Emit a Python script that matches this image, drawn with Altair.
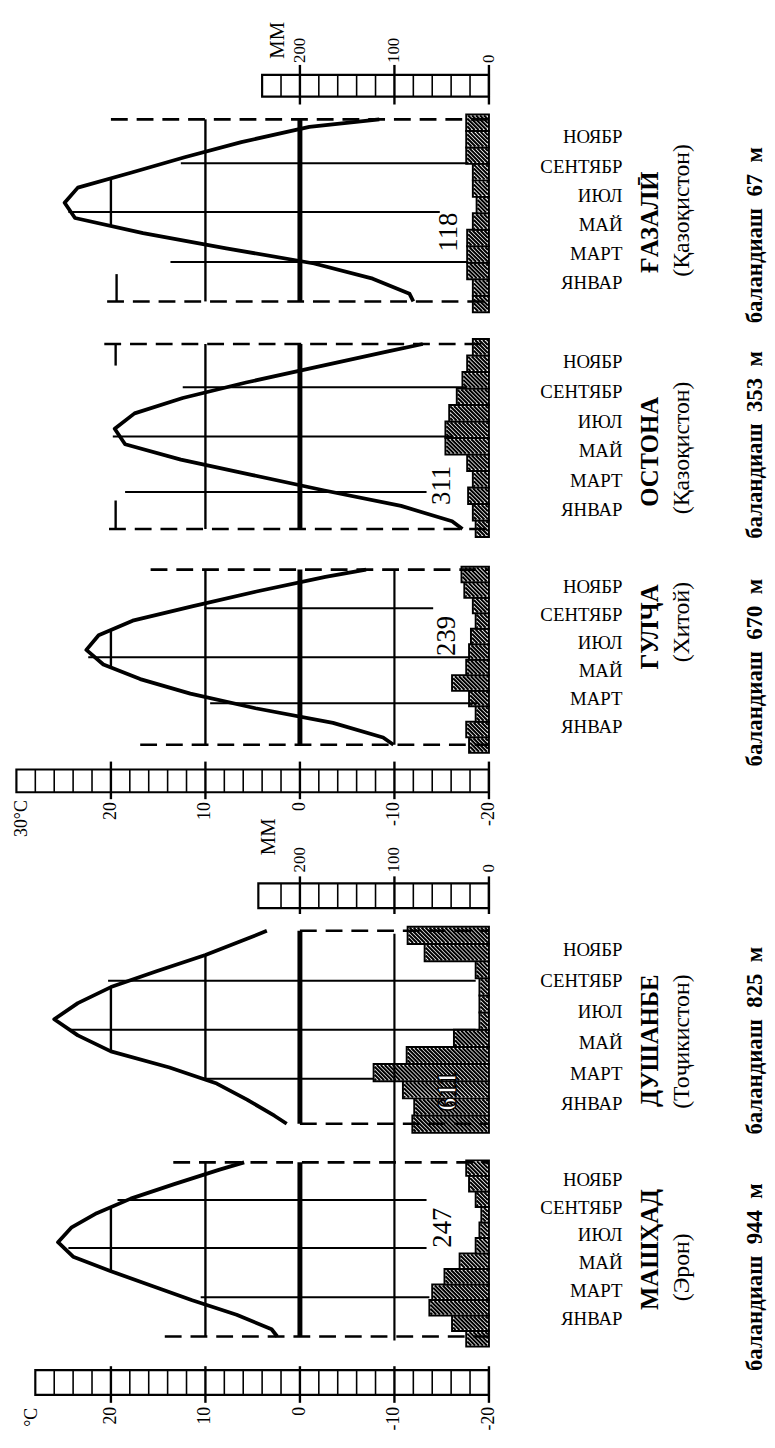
import altair as alt
import pandas as pd

# ---------------- values ----------------
station_names = ["ҒАЗАЛӢ", "ОСТОНА", "ГУЛҶА", "ДУШАНБЕ", "МАШҲАД"]
country_names = ["(Қазоқистон)", "(Қазоқистон)", "(Хитой)", "(Тоҷикистон)", "(Эрон)"]
NB = "\u00a0"
altitude_values = ["67", "353", "670", "825", "944"]
altitude_labels = ["баландиаш" + NB * 2 + v + NB * 2 + "м" for v in altitude_values]
annual_totals = ["118", "311", "239", "611", "247"]
month_labels = ["ЯНВАР", "МАРТ", "МАЙ", "ИЮЛ", "СЕНТЯБР", "НОЯБР"]

# mean monthly temperature, °C (January ... December)
temp_gazali   = [-11.6, -7.7, -1.5, 7.8, 16.6, 23.8, 24.9, 23.5, 17.8, 12.2, 6.2, -1.0]
temp_ostona   = [-16.1, -10.7, -2.6, 5.0, 12.6, 18.5, 19.6, 17.5, 12.4, 5.7, -1.7, -9.2]
temp_gulja    = [-8.8, -3.5, 4.7, 11.6, 16.9, 20.8, 22.6, 21.3, 17.7, 11.3, 4.6, -2.7]
temp_dushanbe = [2.7, 5.6, 8.8, 13.8, 20.0, 23.5, 26.0, 23.5, 20.0, 15.1, 10.0, 5.6]
temp_mashhad  = [3.0, 6.7, 11.4, 15.7, 20.0, 24.0, 25.6, 24.2, 21.5, 17.9, 13.3, 8.5]
# curve value where it meets the start / the end of the year
temp_year_start = [-12.0, -17.2, -9.9, 1.4, 2.4]
temp_year_end   = [-8.4, -13.0, -7.0, 3.5, 5.9]

# monthly precipitation, mm (January ... December)
prec_gazali   = [17, 17, 23, 23, 23, 17, 13, 17, 17, 24, 24, 24]
prec_ostona   = [14, 17, 22, 17, 23, 46, 46, 42, 34, 28, 23, 17]
prec_gulja    = [21, 24, 14, 21, 39, 24, 21, 19, 14, 17, 26, 29]
prec_dushanbe = [81, 79, 91, 122, 87, 37, 10, 10, 10, 14, 68, 86]
prec_mashhad  = [24, 39, 63, 60, 47, 31, 14, 10, 8, 14, 21, 24]

temp_tick_values = [20, 10, 0, -10, -20]
prec_tick_values = [200, 100, 0]

temps = [temp_gazali, temp_ostona, temp_gulja, temp_dushanbe, temp_mashhad]
precs = [prec_gazali, prec_ostona, prec_gulja, prec_dushanbe, prec_mashhad]

# ---------------- layout ----------------
W, H = 767, 1428
PAGE = 8
X_ZERO, X_PER_DEG = 303.0, 9.55


def x_to_t(xpage):
    return (X_ZERO - xpage) / X_PER_DEG


def t_to_xc(t):          # chart-pixel x of a °C value
    return X_ZERO - PAGE - X_PER_DEG * t


def xc_to_t(xc):
    return (X_ZERO - PAGE - xc) / X_PER_DEG


T_MAX = x_to_t(PAGE)
T_MIN = x_to_t(PAGE + W)


def mm_to_t(mm):
    return mm / 10.0 - 20.0


# curve frame (top, bottom) and bar frame (top, bottom), page pixels
panels = [
    dict(ct=113, cb=297, bt=108, bb=308),
    dict(ct=340, cb=527, bt=335, bb=535),
    dict(ct=568, cb=745, bt=565, bb=753),
    dict(ct=933, cb=1128, bt=929, bb=1137),
    dict(ct=1167, cb=1343, bt=1165, bb=1353),
]


def y_of(i, p, bars=False):
    f = panels[i]
    top, bot = (f["bt"], f["bb"]) if bars else (f["ct"], f["cb"])
    return bot - p * (bot - top) / 12.0 - PAGE


def ypg(page_y):
    return page_y - PAGE


def curve_points(i):
    return ([(0.0, temp_year_start[i])] + [(m + 0.5, v) for m, v in enumerate(temps[i])]
            + [(12.0, temp_year_end[i])])


def crossings(i, level):
    pts = curve_points(i)
    out = []
    for (p1, t1), (p2, t2) in zip(pts, pts[1:]):
        if (t1 < level <= t2) or (t2 < level <= t1):
            out.append(p1 + (level - t1) / (t2 - t1) * (p2 - p1))
    return out


xs = alt.Scale(domain=[T_MIN, T_MAX], reverse=True, nice=False, zero=False)
ys = alt.Scale(domain=[0, H], reverse=True, nice=False, zero=False)


def X(f="t"):
    return alt.X(f + ":Q", scale=xs, axis=None)


def Y(f="y"):
    return alt.Y(f + ":Q", scale=ys, axis=None)


# ---------------- curves ----------------
curve_rows = []
for i in range(5):
    for k, (p, t) in enumerate(curve_points(i)):
        curve_rows.append(dict(st=station_names[i], k=k, t=t, y=y_of(i, p)))
curve_df = pd.DataFrame(curve_rows)

# ---------------- precipitation bars (+ hatching derived from each bar) ----------------
bar_rows, hatch_rows = [], []
STEP = 4.0
for i in range(5):
    for m, v in enumerate(precs[i]):
        yb, yt = y_of(i, m, True), y_of(i, m + 1, True)
        bar_rows.append(dict(t=mm_to_t(v), t2=-20.0, y=yb, y2=yt))
        x0, x1 = t_to_xc(mm_to_t(v)) + 1, t_to_xc(-20.0) - 1
        y0, y1 = yt + 1, yb - 1
        c = (int((x0 - y1) // STEP) + 1) * STEP
        while c < x1 - y0:
            ya = max(y0, x0 - c)
            yz = min(y1, x1 - c)
            if yz - ya > 0.3:
                hatch_rows.append(dict(t=xc_to_t(ya + c), t2=xc_to_t(yz + c), y=ya, y2=yz))
            c += STEP
bar_df = pd.DataFrame(bar_rows)
hatch_df = pd.DataFrame(hatch_rows)

# ---------------- solid segments ----------------
seg = []


def add(t, t2, y, y2, w):
    seg.append(dict(t=t, t2=t2, y=y, y2=y2, w=w))


for i in range(5):
    add(0, 0, y_of(i, 0), y_of(i, 12), 5.0)          # 0 °C
    if i == 3:
        c = crossings(i, 10)
        if c:
            add(10, 10, y_of(i, c[0]), y_of(i, c[-1]), 2.4)
    else:
        add(10, 10, y_of(i, 0), y_of(i, 12), 2.4)
    if i != 1:
        c = crossings(i, 20)
        if c:
            add(20, 20, y_of(i, c[0]), y_of(i, c[-1]), 2.4)
# -10 °C lines
add(-10, -10, y_of(2, 0), y_of(2, 12), 2.2)
add(-10, -10, y_of(3, 12) + 3, y_of(4, 0) + 4, 2.2)

# month guide lines: (position in months from Jan start, from °C, to °C)
guides = [
    [(9.1, 12.6, -17.8), (5.9, 24.5, -14.8), (2.6, 13.7, -17.8)],
    [(9.2, 12.4, -17.6), (6.0, 19.8, -16.2), (2.4, 18.5, -13.4)],
    [(9.35, 10.1, -14.1), (6.0, 22.4, -17.9), (2.85, 9.5, -18.8)],
    [(8.9, 20.3, -18.6), (5.85, 24.3, -18.6), (2.8, 10.5, -7.8)],
    [(9.4, 19.3, -13.4), (6.1, 24.5, -13.4), (2.7, 10.5, -13.7)],
]
for i, gl in enumerate(guides):
    for p, a, b in gl:
        add(a, b, y_of(i, p), y_of(i, p), 2.0)

# short marks at the panel edges
add(19.4, 19.4, y_of(0, 0), y_of(0, 1.8), 2.4)
add(19.5, 19.5, y_of(1, 12), y_of(1, 10.6), 2.4)
add(19.5, 19.5, y_of(1, 0), y_of(1, 1.85), 2.4)

# ---------------- dashed year limits ----------------
dash_start = [(20.0, 20.4), (20.7, 20.2), (15.8, 16.9), (0.0, 0.0), (13.4, 14.3)]
dash_rows = []
for i, (a_top, a_bot) in enumerate(dash_start):
    dash_rows.append(dict(t=a_top, t2=-20.0, y=y_of(i, 12), y2=y_of(i, 12)))
    dash_rows.append(dict(t=a_bot, t2=-20.0, y=y_of(i, 0), y2=y_of(i, 0)))
dash_df = pd.DataFrame(dash_rows)

# ---------------- scale bars ----------------
scale_bars = [
    dict(a=mm_to_t(240), b=-20, top=68, bot=90, tt=58, tb=98, major=[mm_to_t(v) for v in prec_tick_values]),
    dict(a=30, b=-20, top=770, bot=793, tt=762, tb=800, major=temp_tick_values),
    dict(a=mm_to_t(244), b=-20, top=885, bot=910, tt=878, tb=916, major=[mm_to_t(v) for v in prec_tick_values]),
    dict(a=28, b=-20, top=1377, bot=1402, tt=1373, tb=1410, major=temp_tick_values),
]
box_rows, cell_rows = [], []
for sb in scale_bars:
    box_rows.append(dict(t=sb["a"], t2=sb["b"], y=ypg(sb["top"]), y2=ypg(sb["bot"])))
    v = -18.0
    while v < sb["a"] - 0.5:
        if v not in sb["major"]:
            cell_rows.append(dict(t=v, t2=v, y=ypg(sb["top"]), y2=ypg(sb["bot"]), w=1.6))
        v += 2.0
    for mj in sb["major"]:
        cell_rows.append(dict(t=mj, t2=mj, y=ypg(sb["tt"]), y2=ypg(sb["tb"]), w=2.4))
box_df = pd.DataFrame(box_rows)
seg_df = pd.DataFrame(seg + cell_rows)

# ---------------- texts ----------------
month_rows = []
for i in range(5):
    f = panels[i]
    hh = f["cb"] - f["ct"]
    for j, lab in enumerate(month_labels):
        month_rows.append(dict(t=x_to_t(629), y=ypg(f["cb"] - hh * (0.1 + 0.16 * j)), label=lab))
month_df = pd.DataFrame(month_rows)

name_y = [217, 449, 626, 1044, 1255]
country_y = [205, 445, 621, 1045, 1273]
alt_y = [230, 442, 672, 1044, 1283]
name_df = pd.DataFrame(dict(t=[x_to_t(657)] * 5, y=[ypg(v) for v in name_y], label=station_names))
country_df = pd.DataFrame(dict(t=[x_to_t(689)] * 5, y=[ypg(v) for v in country_y], label=country_names))
alt_df = pd.DataFrame(dict(t=[x_to_t(763)] * 5, y=[ypg(v) for v in alt_y], label=altitude_labels))

total_pos = [(-15.8, 227), (-15.0, 483), (-15.6, 635), (-15.7, 1095), (-15.2, 1233)]
total_df = pd.DataFrame(dict(t=[p[0] for p in total_pos], y=[ypg(p[1]) for p in total_pos],
                             label=annual_totals))
total_main = total_df.drop(index=3)
total_white = total_df.loc[[3]]

up_rows = []
for anchor in (56, 874):
    for v in prec_tick_values:
        up_rows.append(dict(t=mm_to_t(v), y=ypg(anchor), label=str(v)))
up_df = pd.DataFrame(up_rows)
down_rows = []
for anchor in (803, 1414):
    for v in temp_tick_values:
        down_rows.append(dict(t=v, y=ypg(anchor), label=str(v)))
down_rows.append(dict(t=29.4, y=ypg(801), label="30°C"))
down_rows.append(dict(t=28.3, y=ypg(1415), label="°C"))
down_df = pd.DataFrame(down_rows)
mm_df = pd.DataFrame(dict(t=[2.3, 3.3], y=[ypg(33), ypg(838)], label=["ММ", "ММ"]))

SERIF = "Liberation Serif"

layers = [
    alt.Chart(bar_df).mark_rect(fill="white", stroke="black", strokeWidth=2.0).encode(
        x=X(), x2="t2:Q", y=Y(), y2="y2:Q"),
    alt.Chart(hatch_df).mark_rule(color="black", strokeWidth=2.1).encode(
        x=X(), x2="t2:Q", y=Y(), y2="y2:Q"),
    alt.Chart(dash_df).mark_rule(color="black", strokeWidth=2.6, strokeDash=[17, 9]).encode(
        x=X(), x2="t2:Q", y=Y(), y2="y2:Q"),
    alt.Chart(seg_df).mark_rule(color="black").encode(
        x=X(), x2="t2:Q", y=Y(), y2="y2:Q",
        strokeWidth=alt.StrokeWidth("w:Q", scale=None)),
    alt.Chart(box_df).mark_rect(filled=False, stroke="black", strokeWidth=2.2).encode(
        x=X(), x2="t2:Q", y=Y(), y2="y2:Q"),
    alt.Chart(curve_df).mark_line(color="black", strokeWidth=3.8, strokeJoin="round").encode(
        x=X(), y=Y(), detail="st:N", order="k:Q"),
    alt.Chart(month_df).mark_text(align="right", baseline="middle", font=SERIF, fontSize=19,
                                  color="black").encode(x=X(), y=Y(), text="label:N"),
    alt.Chart(name_df).mark_text(angle=270, align="center", baseline="middle", font=SERIF,
                                 fontSize=25, fontWeight="bold", color="black").encode(
        x=X(), y=Y(), text="label:N"),
    alt.Chart(country_df).mark_text(angle=270, align="center", baseline="middle", font=SERIF,
                                    fontSize=24, color="black").encode(x=X(), y=Y(), text="label:N"),
    alt.Chart(alt_df).mark_text(angle=270, align="center", baseline="middle", font=SERIF,
                                fontSize=23, fontWeight="bold", color="black").encode(
        x=X(), y=Y(), text="label:N"),
    alt.Chart(total_main).mark_text(angle=270, align="center", baseline="middle", font=SERIF,
                                    fontSize=27, color="black").encode(x=X(), y=Y(), text="label:N"),
    alt.Chart(total_white).mark_text(angle=270, align="center", baseline="middle", font=SERIF,
                                     fontSize=28, fontWeight="bold", color="white", stroke="black",
                                     strokeWidth=1.4).encode(x=X(), y=Y(), text="label:N"),
    alt.Chart(up_df).mark_text(angle=270, align="left", baseline="middle", font=SERIF,
                               fontSize=17, color="black").encode(x=X(), y=Y(), text="label:N"),
    alt.Chart(down_df).mark_text(angle=270, align="right", baseline="middle", font=SERIF,
                                 fontSize=18, color="black").encode(x=X(), y=Y(), text="label:N"),
    alt.Chart(mm_df).mark_text(angle=270, align="center", baseline="middle", font=SERIF,
                               fontSize=21, color="black").encode(x=X(), y=Y(), text="label:N"),
]

chart = alt.layer(*layers).properties(
    width=W, height=H, padding=0, autosize="none", background="white"
).configure_view(stroke=None)

chart.save("out.html", embed_options={"renderer": "svg", "actions": False})
